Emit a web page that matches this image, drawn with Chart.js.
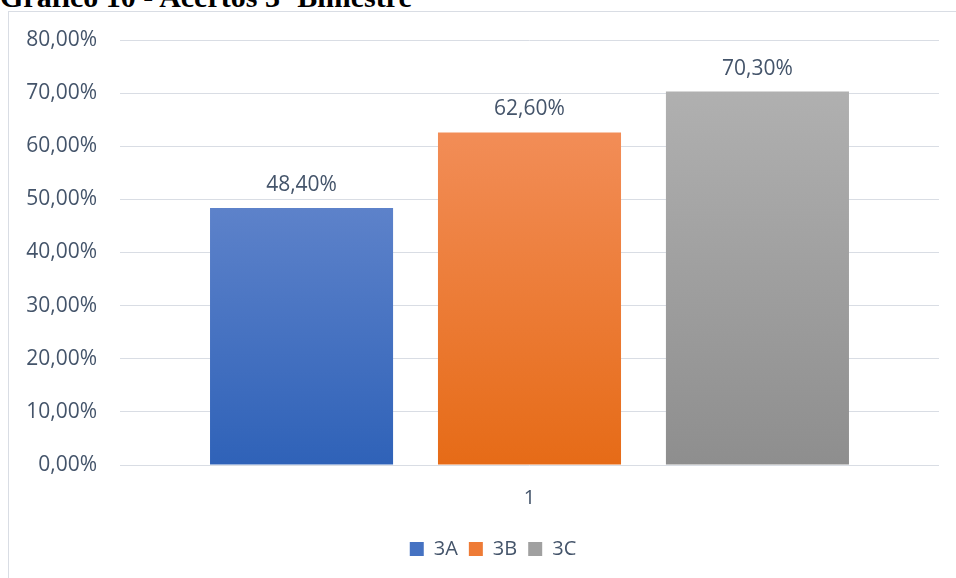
<!DOCTYPE html>
<html>
<head>
<meta charset="utf-8">
<script src="https://cdn.jsdelivr.net/npm/chart.js@4"></script>
<style>
  body { margin: 0; background: #fff; overflow: hidden; }
  #title {
    position: absolute; left: 0; top: -18px;
    font: bold 30px "Liberation Serif", serif; line-height: 30px;
    color: #000; white-space: nowrap;
  }
  #box {
    position: absolute; left: 8px; top: 11px; width: 948px; height: 567px;
    border-top: 1px solid #d9dde4; border-left: 1px solid #d9dde4;
    box-sizing: border-box; background: #fff;
  }
</style>
</head>
<body>
<div id="title">Gráfico 10 - Acertos 3º Bimestre</div>
<div id="box"><canvas id="acertosChart" width="947" height="566"></canvas></div>
<script>
const categories = ['1'];
const turmas = ['3A', '3B', '3C'];
const acertos = [48.4, 62.6, 70.3];
const yTicks = [0, 10, 20, 30, 40, 50, 60, 70, 80];

const topColors = ['#5d82ca', '#f28d57', '#b0b0b0'];
const bottomColors = ['#2f62b8', '#e66b17', '#8e8e8e'];
const legendColors = ['#4572c2', '#ee7b36', '#a0a0a0'];
const textColor = '#44546a';

function pct(v) {
    return v.toFixed(2).replace('.', ',') + '%';
}

function barGradient(i) {
    return function(context) {
        const chart = context.chart;
        const {ctx, chartArea, scales} = chart;
        if (!chartArea) return topColors[i];
        const y0 = scales.y.getPixelForValue(0);
        const y1 = scales.y.getPixelForValue(acertos[i]);
        const g = ctx.createLinearGradient(0, y0, 0, y1);
        g.addColorStop(0, bottomColors[i]);
        g.addColorStop(1, topColors[i]);
        return g;
    };
}

// rótulos de valor em cima das barras
const valueLabels = {
    id: 'valueLabels',
    afterDatasetsDraw(chart) {
        const ctx = chart.ctx;
        ctx.save();
        ctx.font = '21px "Open Sans"';
        ctx.fillStyle = textColor;
        ctx.textAlign = 'center';
        ctx.textBaseline = 'middle';
        chart.data.datasets.forEach((ds, i) => {
            chart.getDatasetMeta(i).data.forEach((bar, j) => {
                ctx.fillText(pct(ds.data[j]), bar.x, bar.y - 23);
            });
        });
        ctx.restore();
    }
};

// legenda um pouco para a direita, como no original
const legendShift = {
    id: 'legendShift',
    afterLayout(chart) {
        if (chart.legend) {
            chart.legend.left += 19;
            chart.legend.right += 19;
        }
    }
};

const ctx = document.getElementById('acertosChart').getContext('2d');
const acertosChart = new Chart(ctx, {
    type: 'bar',
    data: {
        labels: categories,
        datasets: turmas.map((t, i) => ({
            label: t,
            data: [acertos[i]],
            backgroundColor: barGradient(i),
            borderWidth: 0,
            categoryPercentage: 0.835,
            barPercentage: 0.803
        }))
    },
    options: {
        responsive: false,
        animation: false,
        layout: {
            padding: { left: 0, right: 17, top: 28, bottom: 9 }
        },
        scales: {
            y: {
                min: 0,
                max: 80,
                afterBuildTicks: function(scale) {
                    scale.ticks = yTicks.map(v => ({ value: v }));
                },
                afterFit: function(scale) {
                    scale.width = 111;
                    scale.paddingTop = 0;
                    scale.paddingBottom = 0;
                },
                border: { display: false },
                grid: { color: '#d9dde4', lineWidth: 1, drawTicks: false },
                ticks: {
                    color: textColor,
                    padding: 23,
                    font: { family: 'Open Sans', size: 21 },
                    callback: function(value) { return pct(value); }
                }
            },
            x: {
                afterFit: function(scale) { scale.height = 63; },
                border: { display: false },
                grid: { display: false, drawTicks: false },
                ticks: {
                    color: textColor,
                    padding: 21,
                    font: { family: 'Open Sans', size: 20 }
                }
            }
        },
        plugins: {
            legend: {
                position: 'bottom',
                labels: {
                    color: textColor,
                    boxWidth: 14,
                    boxHeight: 14,
                    padding: 11,
                    font: { family: 'Open Sans', size: 20 },
                    generateLabels: function(chart) {
                        return turmas.map((t, i) => ({
                            text: t,
                            fillStyle: legendColors[i],
                            strokeStyle: legendColors[i],
                            lineWidth: 0,
                            datasetIndex: i,
                            fontColor: textColor
                        }));
                    }
                }
            },
            tooltip: { enabled: false }
        }
    },
    plugins: [valueLabels, legendShift]
});
</script>
</body>
</html>
